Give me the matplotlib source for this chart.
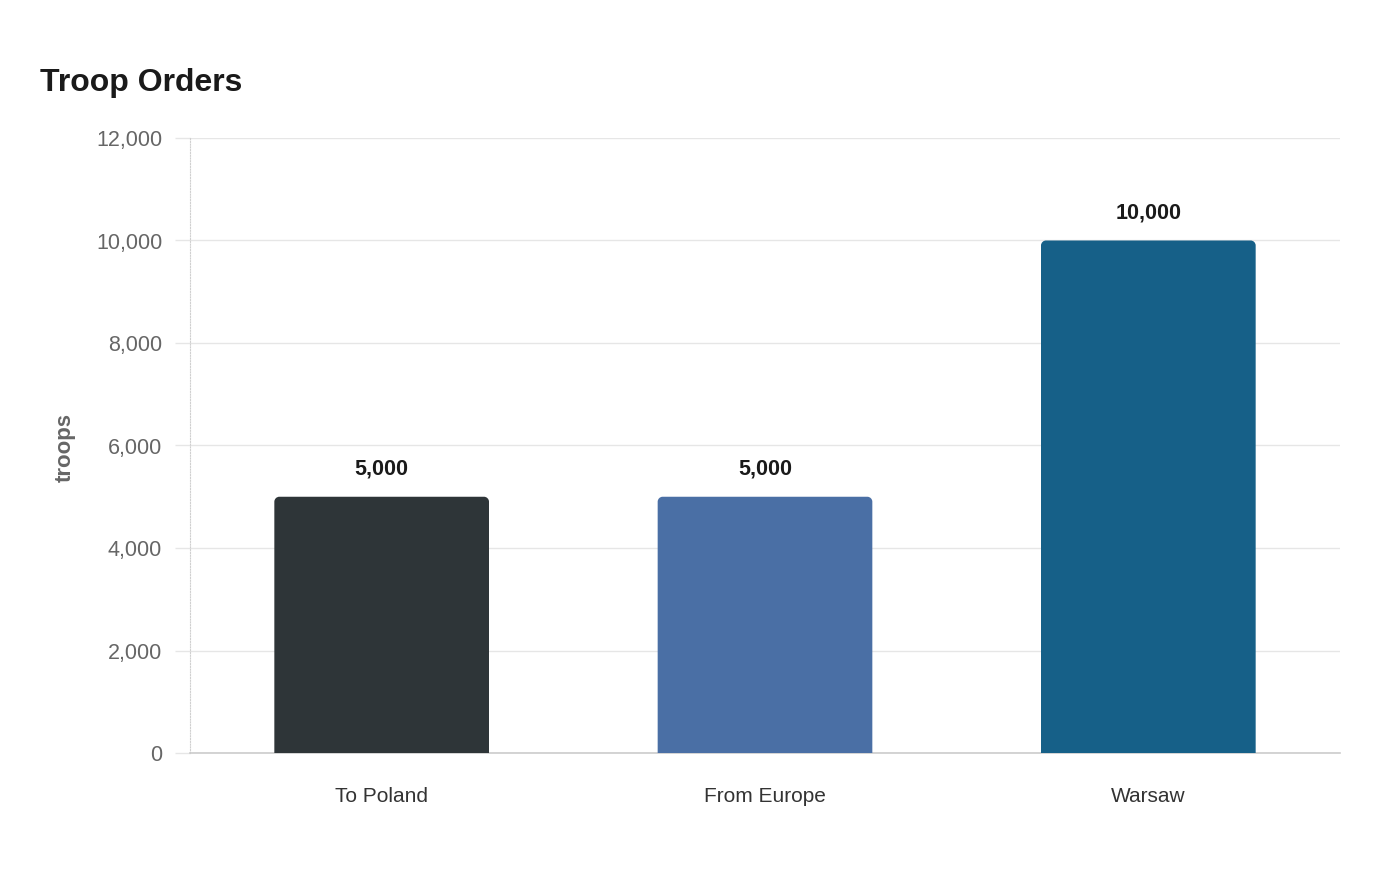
import matplotlib
matplotlib.use("Agg")
import matplotlib.pyplot as plt
from matplotlib.patches import PathPatch
from matplotlib.path import Path
from matplotlib.ticker import FuncFormatter

categories = ["To Poland", "From Europe", "Warsaw"]
values = [5000, 5000, 10000]
colors = ["#2e3538", "#4a6fa5", "#166088"]
y_ticks = [0, 2000, 4000, 6000, 8000, 10000, 12000]

plt.rcParams['font.family'] = ['Liberation Sans', 'DejaVu Sans']

fig = plt.figure(figsize=(14, 8.8), dpi=100)
ax = fig.add_axes([190/1400, 1-753/880, 1150/1400, 615/880])
ax.set_xlim(-0.5, 2.5)
ax.set_ylim(0, 12000)

bar_w = 0.56
px_x = 1150 / 3.0
px_y = 615 / 12000.0
r_px = 5
rx = r_px / px_x
ry = r_px / px_y
k = 0.5523


def rounded_top_bar(x0, w, h):
    x1 = x0 + w
    verts = [
        (x0, 0), (x0, h - ry),
        (x0, h - ry + k * ry), (x0 + rx - k * rx, h), (x0 + rx, h),
        (x1 - rx, h),
        (x1 - rx + k * rx, h), (x1, h - ry + k * ry), (x1, h - ry),
        (x1, 0), (x0, 0),
    ]
    codes = [Path.MOVETO, Path.LINETO,
             Path.CURVE4, Path.CURVE4, Path.CURVE4,
             Path.LINETO,
             Path.CURVE4, Path.CURVE4, Path.CURVE4,
             Path.LINETO, Path.CLOSEPOLY]
    return Path(verts, codes)


for i, (v, c) in enumerate(zip(values, colors)):
    x0 = i - bar_w / 2
    ax.add_patch(PathPatch(rounded_top_bar(x0, bar_w, v), facecolor=c,
                           edgecolor="none", zorder=3))
    ax.annotate(f"{v:,}", xy=(i, v), xytext=(0, 12.5), textcoords="offset points",
                ha="center", va="bottom", fontsize=15.5, fontweight="bold", color="#1a1a1a")

ax.set_xticks(range(len(categories)))
ax.set_xticklabels(categories)
ax.set_yticks(y_ticks)
ax.yaxis.set_major_formatter(FuncFormatter(lambda v, p: f"{int(v):,}"))

ax.grid(axis="y", color="#e6e6e6", linewidth=1, zorder=0)
ax.set_axisbelow(True)

for s in ["top", "right"]:
    ax.spines[s].set_visible(False)
ax.spines["left"].set_color("#d0d0d0")
ax.spines["left"].set_linestyle((0, (1, 1.5)))
ax.spines["left"].set_linewidth(0.8)
ax.spines["bottom"].set_color("#cccccc")
ax.spines["bottom"].set_linewidth(1.2)

ax.tick_params(axis="y", length=11, width=1, color="#e6e6e6", pad=9,
               labelsize=15.5, labelcolor="#666666")
ax.tick_params(axis="x", length=0, pad=24.5, labelsize=15, labelcolor="#333333")

ax.set_ylabel("troops", fontsize=16, fontweight="bold", color="#666666")
ax.yaxis.set_label_coords((76 - 190) / 1150, 0.5 + (753 - 447 - 307.5) / 615)

fig.text(40/1400, 1 - 91/880, "Troop Orders", fontsize=23, fontweight="bold",
         color="#1a1a1a", ha="left", va="baseline")

fig.savefig("out.png", dpi=100, facecolor="white")
